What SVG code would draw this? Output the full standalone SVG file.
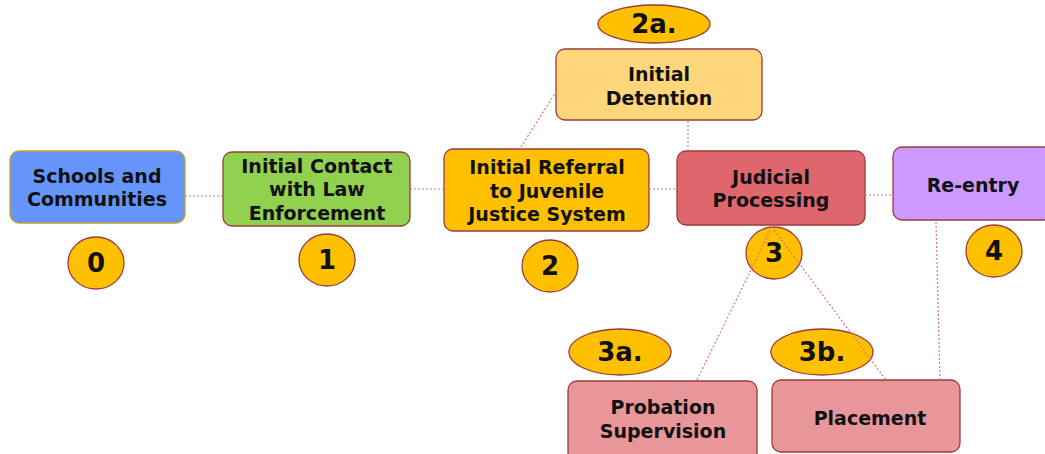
<svg xmlns="http://www.w3.org/2000/svg" width="1045" height="454" viewBox="0 0 1045 454">
<style>
.box{stroke:#9b3b3b;stroke-width:1.3}
.lbl{font-family:"DejaVu Sans",Verdana,sans-serif;font-weight:bold;font-size:19px;fill:#111;text-anchor:middle}
.num{font-family:"DejaVu Sans",Verdana,sans-serif;font-weight:bold;font-size:26px;fill:#111;text-anchor:middle}
.oval{fill:#ffc000;stroke:#9b3b3b;stroke-width:1.3}
.con{stroke:#d9777a;stroke-width:1.2;stroke-dasharray:2 2;fill:none}
</style>
<rect width="1045" height="454" fill="#ffffff"/>
<g id="n0"><rect class="box" x="10" y="151" width="175" height="72" rx="9" fill="#6495fa" style="stroke:#c9a02e"/>
<text class="lbl" x="97" y="183">Schools and</text><text class="lbl" x="97" y="206">Communities</text></g>
<g id="n1"><rect class="box" x="223" y="152" width="187" height="74" rx="9" fill="#92d050"/>
<text class="lbl" x="317" y="173">Initial Contact</text><text class="lbl" x="317" y="196">with Law</text><text class="lbl" x="317" y="220">Enforcement</text></g>
<g id="n2"><rect class="box" x="444" y="149" width="205" height="82" rx="9" fill="#ffc000"/>
<text class="lbl" x="547" y="174">Initial Referral</text><text class="lbl" x="547" y="198">to Juvenile</text><text class="lbl" x="547" y="221">Justice System</text></g>
<g id="n2a"><rect class="box" x="556" y="49" width="206" height="71" rx="9" fill="#ffd77a"/>
<text class="lbl" x="659" y="81">Initial</text><text class="lbl" x="659" y="105">Detention</text></g>
<g id="n3"><rect class="box" x="677" y="151" width="188" height="74" rx="9" fill="#e0666e"/>
<text class="lbl" x="771" y="184">Judicial</text><text class="lbl" x="771" y="207">Processing</text></g>
<g id="n4"><rect class="box" x="893" y="147" width="160" height="73" rx="9" fill="#cc99ff"/>
<text class="lbl" x="973" y="192">Re-entry</text></g>
<g id="n3a"><rect class="box" x="568" y="381" width="189" height="80" rx="9" fill="#e8969a"/>
<text class="lbl" x="663" y="414">Probation</text><text class="lbl" x="663" y="438">Supervision</text></g>
<g id="n3b"><rect class="box" x="772" y="380" width="188" height="72" rx="9" fill="#e8969a"/>
<text class="lbl" x="870" y="425">Placement</text></g>
<g id="b0"><ellipse class="oval" cx="96" cy="263" rx="28" ry="26"/><text class="num" x="96" y="272">0</text></g>
<g id="b1"><ellipse class="oval" cx="327" cy="260" rx="28" ry="26"/><text class="num" x="327" y="269">1</text></g>
<g id="b2"><ellipse class="oval" cx="550" cy="266" rx="28" ry="26"/><text class="num" x="550" y="275">2</text></g>
<g id="b2a"><ellipse class="oval" cx="654" cy="24" rx="56" ry="19"/><text class="num" x="654" y="33">2a.</text></g>
<g id="b3"><ellipse class="oval" cx="774" cy="253" rx="28" ry="26"/><text class="num" x="774" y="262">3</text></g>
<g id="b4"><ellipse class="oval" cx="994" cy="251" rx="28" ry="26"/><text class="num" x="994" y="260">4</text></g>
<g id="b3a"><ellipse class="oval" cx="620" cy="352" rx="51" ry="23"/><text class="num" x="620" y="361">3a.</text></g>
<g id="b3b"><ellipse class="oval" cx="822" cy="352" rx="51" ry="23"/><text class="num" x="822" y="361">3b.</text></g>
<g id="connectors">
<line class="con" x1="185" y1="196" x2="223" y2="196"/>
<line class="con" x1="410" y1="189" x2="444" y2="189"/>
<line class="con" x1="649" y1="189" x2="677" y2="189"/>
<line class="con" x1="521" y1="147" x2="556" y2="92"/>
<line class="con" x1="688" y1="121" x2="688" y2="151"/>
<line class="con" x1="865" y1="195" x2="893" y2="195"/>
<line class="con" x1="772" y1="227" x2="697" y2="380"/>
<line class="con" x1="772" y1="227" x2="886" y2="380"/>
<line class="con" x1="936" y1="222" x2="940" y2="380"/>
</g>
</svg>
